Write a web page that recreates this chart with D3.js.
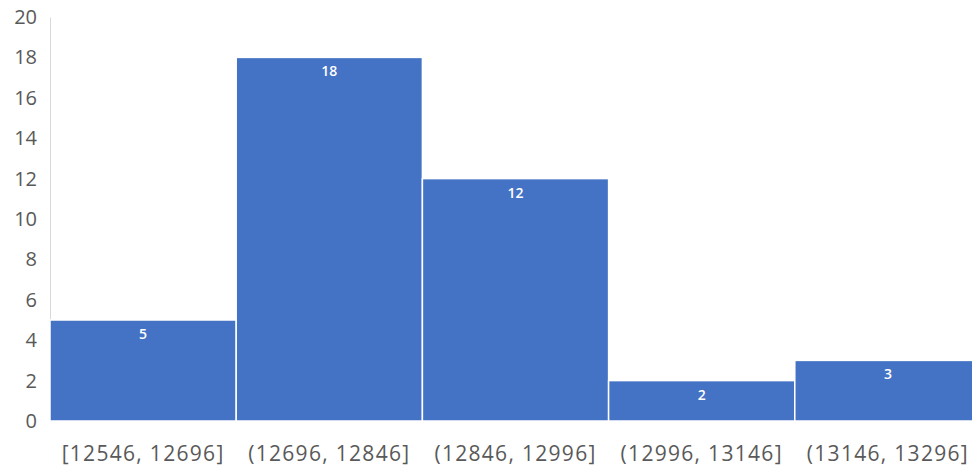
<!DOCTYPE html>
<html><head><meta charset="utf-8">
<script src="https://cdn.jsdelivr.net/npm/d3@7"></script>
<style>body{margin:0;background:#fff;overflow:hidden}</style>
</head><body>
<svg id="c" width="972" height="471"></svg>
<script>
const categories = ["[12546, 12696]","(12696, 12846]","(12846, 12996]","(12996, 13146]","(13146, 13296]"];
const counts = [5, 18, 12, 2, 3];
const yTicks = [0,2,4,6,8,10,12,14,16,18,20];

const svg = d3.select("#c");
const m = {left: 50, top: 17, bottom: 421, right: 981};
const x = d3.scaleBand().domain(categories).range([m.left, m.right]).padding(0);
const y = d3.scaleLinear().domain([0, 20]).range([m.bottom, m.top]);
const font = "'Open Sans', 'Liberation Sans', sans-serif";

// y axis
const ya = svg.append("g").attr("transform", `translate(${m.left},0)`)
  .call(d3.axisLeft(y).tickValues(yTicks).tickSize(0).tickPadding(13));
ya.select(".domain").attr("stroke", "#d9d9d9");
ya.selectAll("text").attr("font-family", font).attr("font-size", 20).attr("fill", "#595959");

// bars
svg.append("g").selectAll("rect").data(counts).join("rect")
  .attr("x", (d,i) => x(categories[i]))
  .attr("width", x.bandwidth())
  .attr("y", d => y(d))
  .attr("height", d => y(0) - y(d))
  .attr("fill", "#4472C4")
  .attr("stroke", "#ffffff").attr("stroke-width", 1.5);

// data labels
svg.append("g").selectAll("text").data(counts).join("text")
  .attr("x", (d,i) => x(categories[i]) + x.bandwidth()/2)
  .attr("y", d => y(d) + 19)
  .attr("text-anchor", "middle")
  .attr("font-family", font).attr("font-size", 14).attr("font-weight", 600)
  .attr("fill", "#ffffff")
  .text(d => d);

// x axis labels
const xa = svg.append("g").attr("transform", `translate(0,${m.bottom})`)
  .call(d3.axisBottom(x).tickSize(0).tickPadding(0));
xa.select(".domain").remove();
xa.selectAll("text").attr("font-family", font).attr("font-size", 21).attr("fill", "#595959")
  .attr("letter-spacing", "1.3px").attr("dy", null).attr("y", 40);
</script>
</body></html>
